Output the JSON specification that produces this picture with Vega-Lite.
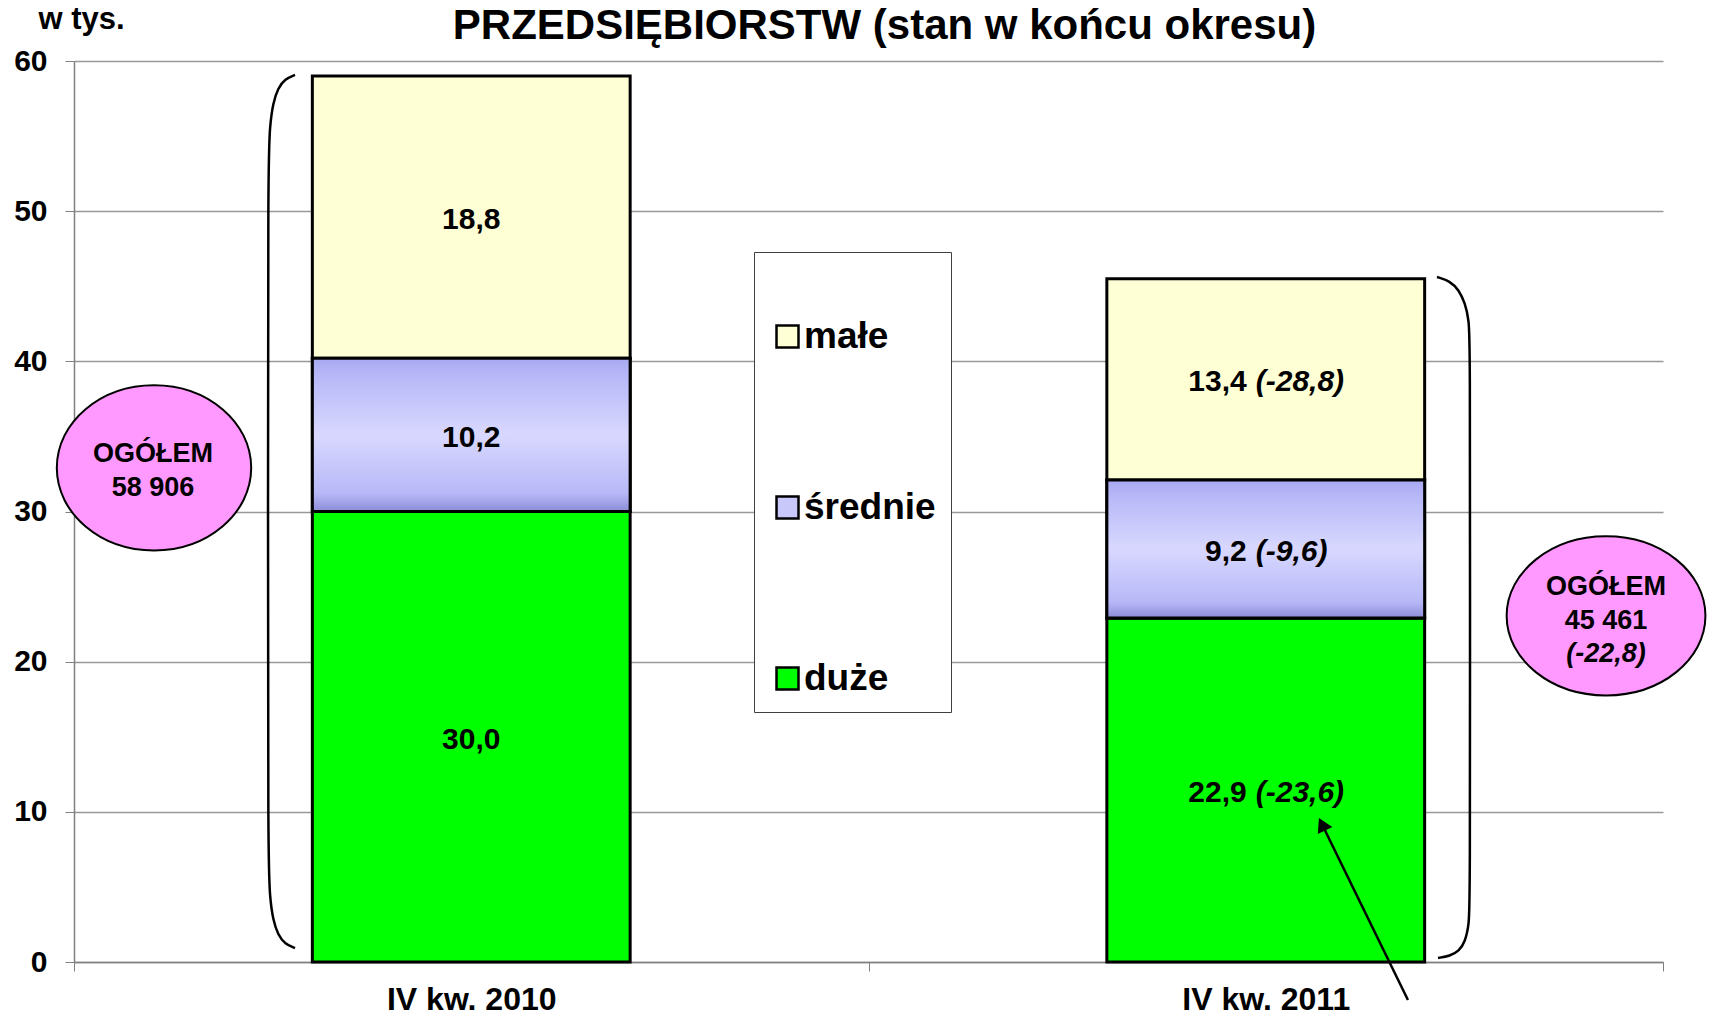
{
  "$schema": "https://vega.github.io/schema/vega-lite/v6.json",
  "autosize": {"type": "none"},
  "width": 1589,
  "height": 901,
  "padding": {"left": 74, "top": 61, "right": 49, "bottom": 55},
  "background": "white",
  "config": {"font": "Liberation Sans", "view": {"stroke": null}},
  "title": {"text": "PRZEDSIĘBIORSTW (stan w końcu okresu)", "fontSize": 42, "fontWeight": "bold", "color": "black", "anchor": "middle", "frame": "group", "dx": 16, "offset": -78, "baseline": "alphabetic"},
  "datasets": {
    "bars": [
      {"period": "IV kw. 2010", "cat": "duże", "ord": 1, "value": 30.0, "lab": "30,0", "delta": ""},
      {"period": "IV kw. 2010", "cat": "średnie", "ord": 2, "value": 10.2, "lab": "10,2", "delta": ""},
      {"period": "IV kw. 2010", "cat": "małe", "ord": 3, "value": 18.8, "lab": "18,8", "delta": ""},
      {"period": "IV kw. 2011", "cat": "duże", "ord": 1, "value": 22.9, "lab": "22,9", "delta": "(-23,6)"},
      {"period": "IV kw. 2011", "cat": "średnie", "ord": 2, "value": 9.2, "lab": "9,2", "delta": "(-9,6)"},
      {"period": "IV kw. 2011", "cat": "małe", "ord": 3, "value": 13.4, "lab": "13,4", "delta": "(-28,8)"}
    ],
    "braces": [
      {"b": "L", "i": 1, "ax": 0.2782, "ay": 59.07},
      {"b": "L", "i": 2, "ax": 0.2656, "ay": 58.80},
      {"b": "L", "i": 3, "ax": 0.2568, "ay": 58.20},
      {"b": "L", "i": 4, "ax": 0.2505, "ay": 57.20},
      {"b": "L", "i": 5, "ax": 0.2467, "ay": 55.74},
      {"b": "L", "i": 6, "ax": 0.2442, "ay": 53.41},
      {"b": "L", "i": 7, "ax": 0.2442, "ay": 30.0},
      {"b": "L", "i": 8, "ax": 0.2442, "ay": 6.59},
      {"b": "L", "i": 9, "ax": 0.2467, "ay": 4.26},
      {"b": "L", "i": 10, "ax": 0.2505, "ay": 2.80},
      {"b": "L", "i": 11, "ax": 0.2568, "ay": 1.80},
      {"b": "L", "i": 12, "ax": 0.2656, "ay": 1.20},
      {"b": "L", "i": 13, "ax": 0.2782, "ay": 0.93},
      {"b": "R", "i": 1, "ax": 1.7155, "ay": 45.62},
      {"b": "R", "i": 2, "ax": 1.7319, "ay": 45.35},
      {"b": "R", "i": 3, "ax": 1.7432, "ay": 44.75},
      {"b": "R", "i": 4, "ax": 1.7508, "ay": 43.88},
      {"b": "R", "i": 5, "ax": 1.7558, "ay": 42.75},
      {"b": "R", "i": 6, "ax": 1.7571, "ay": 41.09},
      {"b": "R", "i": 7, "ax": 1.7571, "ay": 24.11},
      {"b": "R", "i": 8, "ax": 1.7571, "ay": 4.13},
      {"b": "R", "i": 9, "ax": 1.7558, "ay": 2.46},
      {"b": "R", "i": 10, "ax": 1.7508, "ay": 1.33},
      {"b": "R", "i": 11, "ax": 1.7432, "ay": 0.73},
      {"b": "R", "i": 12, "ax": 1.7319, "ay": 0.40},
      {"b": "R", "i": 13, "ax": 1.7168, "ay": 0.27}
    ],
    "arrow": [
      {"i": 1, "ax": 1.679, "ay": -2.53},
      {"i": 2, "ax": 1.5708, "ay": 9.17}
    ],
    "arrowhead": [{"ax": 1.5708, "ay": 9.17}],
    "ellipseL": [{"name": "2010", "ax": 0.1007, "ay": 32.91}],
    "ellipseR": [{"name": "2011", "ax": 1.9283, "ay": 23.05}],
    "ellTexts": [
      {"t": "OGÓŁEM\n58 906", "ax": 0.0995, "ay": 33.8},
      {"t": "OGÓŁEM\n45 461", "ax": 1.9283, "ay": 25.0}
    ],
    "ellItalic": [{"t": "(-22,8)", "ax": 1.9283, "ay": 20.5}]
  },
  "resolve": {"scale": {"x": "independent"}, "axis": {"x": "independent"}},
  "layer": [
    {
      "data": {"name": "bars"},
      "transform": [
        {"stack": "value", "groupby": ["period"], "sort": [{"field": "ord", "order": "ascending"}], "as": ["v0", "v1"]},
        {"calculate": "(datum.v0 + datum.v1) / 2", "as": "mid"}
      ],
      "encoding": {
        "x": {"field": "period", "type": "nominal", "sort": null, "scale": {"paddingInner": 0, "paddingOuter": 0},
          "axis": {"title": null, "labelAngle": 0, "labelFontSize": 32, "labelFontWeight": "bold", "labelColor": "black", "labelPadding": 13, "tickBand": "extent", "tickSize": 9, "tickColor": "#808080", "domainColor": "#808080", "domainWidth": 1.5, "grid": false}}
      },
      "layer": [
        {
          "mark": {"type": "bar", "stroke": "black", "strokeWidth": 3, "width": {"band": 0.4}},
          "encoding": {
            "y": {"field": "v1", "type": "quantitative", "scale": {"domain": [0, 60], "nice": false},
              "axis": {"title": "w tys.", "titleAngle": 0, "titleX": -36, "titleY": -33, "titleAlign": "left", "titleBaseline": "alphabetic", "titleFontSize": 31, "titleFontWeight": "bold", "titleColor": "black", "values": [0, 10, 20, 30, 40, 50, 60], "labelFontSize": 30, "labelFontWeight": "bold", "labelColor": "black", "labelPadding": 18, "tickSize": 9, "tickColor": "#808080", "domainColor": "#808080", "domainWidth": 1.5, "grid": true, "gridColor": "#999999", "gridWidth": 1.3}},
            "y2": {"field": "v0"},
            "color": {"field": "cat", "type": "nominal",
              "scale": {"domain": ["małe", "średnie", "duże"], "range": ["#FFFFD6", "#C8C8FA", "#00FF00"]},
              "legend": {"orient": "none", "legendX": 680, "legendY": 191, "title": " ", "titleFontSize": 20, "titlePadding": 31, "padding": 15, "strokeColor": "#404040", "fillColor": "white", "labelFontSize": 37, "labelFontWeight": "bold", "labelColor": "black", "labelFont": "Liberation Sans", "symbolType": "square", "symbolSize": 484, "symbolStrokeColor": "black", "symbolStrokeWidth": 2.5, "symbolOpacity": 1, "rowPadding": 133, "labelOffset": -2, "labelLimit": 0}}
          }
        },
        {
          "transform": [{"filter": "datum.cat === 'średnie'"}],
          "mark": {"type": "bar", "stroke": "black", "strokeWidth": 3, "width": {"band": 0.4},
            "fill": {"x1": 0, "y1": 0, "x2": 0, "y2": 1, "gradient": "linear", "stops": [
              {"offset": 0, "color": "#A8A8F2"}, {"offset": 0.12, "color": "#B8B8F8"}, {"offset": 0.5, "color": "#D8D8FF"}, {"offset": 0.88, "color": "#B8B8F8"}, {"offset": 1, "color": "#8C8CD8"}]}},
          "encoding": {
            "y": {"field": "v1", "type": "quantitative", "scale": {"domain": [0, 60], "nice": false}},
            "y2": {"field": "v0"}
          }
        },
        {
          "transform": [{"filter": "datum.period === 'IV kw. 2010'"}],
          "mark": {"type": "text", "fontSize": 30, "fontWeight": "bold", "baseline": "middle", "align": "center", "dy": 3, "color": "black"},
          "encoding": {
            "y": {"field": "mid", "type": "quantitative", "scale": {"domain": [0, 60]}},
            "text": {"field": "lab"}
          }
        },
        {
          "transform": [{"filter": "datum.period === 'IV kw. 2011'"}],
          "mark": {"type": "text", "fontSize": 30, "fontWeight": "bold", "baseline": "middle", "align": "right", "dx": -19, "dy": 3, "color": "black"},
          "encoding": {
            "y": {"field": "mid", "type": "quantitative", "scale": {"domain": [0, 60]}},
            "text": {"field": "lab"}
          }
        },
        {
          "transform": [{"filter": "datum.period === 'IV kw. 2011'"}],
          "mark": {"type": "text", "fontSize": 30, "fontWeight": "bold", "fontStyle": "italic", "baseline": "middle", "align": "left", "dx": -10, "dy": 3, "color": "black"},
          "encoding": {
            "y": {"field": "mid", "type": "quantitative", "scale": {"domain": [0, 60]}},
            "text": {"field": "delta"}
          }
        }
      ]
    },
    {
      "encoding": {
        "x": {"field": "ax", "type": "quantitative", "scale": {"domain": [0, 2], "nice": false, "zero": false}, "axis": null},
        "y": {"field": "ay", "type": "quantitative", "scale": {"domain": [0, 60], "nice": false}}
      },
      "layer": [
        {
          "data": {"name": "braces"},
          "mark": {"type": "line", "stroke": "black", "strokeWidth": 2.5, "interpolate": "basis"},
          "encoding": {"detail": {"field": "b"}, "order": {"field": "i", "type": "quantitative"}}
        },
        {
          "data": {"name": "arrow"},
          "mark": {"type": "line", "stroke": "black", "strokeWidth": 2.5},
          "encoding": {"order": {"field": "i", "type": "quantitative"}}
        },
        {
          "data": {"name": "arrowhead"},
          "mark": {"type": "point", "shape": "triangle-up", "filled": true, "fill": "black", "opacity": 1, "size": 260, "angle": 334},
          "encoding": {}
        },
        {
          "data": {"name": "ellipseL"},
          "mark": {"type": "point", "shape": "M 1 0 C 1 0.469 0.552 0.85 0 0.85 C -0.552 0.85 -1 0.469 -1 0 C -1 -0.469 -0.552 -0.85 0 -0.85 C 0.552 -0.85 1 -0.469 1 0 Z", "size": 37791, "filled": true, "fill": "#FF99FF", "stroke": "black", "strokeWidth": 2, "opacity": 1, "fillOpacity": 1},
          "encoding": {}
        },
        {
          "data": {"name": "ellipseR"},
          "mark": {"type": "point", "shape": "M 1 0 C 1 0.442 0.552 0.8 0 0.8 C -0.552 0.8 -1 0.442 -1 0 C -1 -0.442 -0.552 -0.8 0 -0.8 C 0.552 -0.8 1 -0.442 1 0 Z", "size": 39521, "filled": true, "fill": "#FF99FF", "stroke": "black", "strokeWidth": 2, "opacity": 1, "fillOpacity": 1},
          "encoding": {}
        },
        {
          "data": {"name": "ellTexts"},
          "mark": {"type": "text", "fontSize": 27, "fontWeight": "bold", "lineBreak": "\n", "lineHeight": 34, "baseline": "middle", "align": "center", "color": "black"},
          "encoding": {"text": {"field": "t"}}
        },
        {
          "data": {"name": "ellItalic"},
          "mark": {"type": "text", "fontSize": 27, "fontWeight": "bold", "fontStyle": "italic", "baseline": "middle", "align": "center", "color": "black"},
          "encoding": {"text": {"field": "t"}}
        }
      ]
    }
  ]
}
